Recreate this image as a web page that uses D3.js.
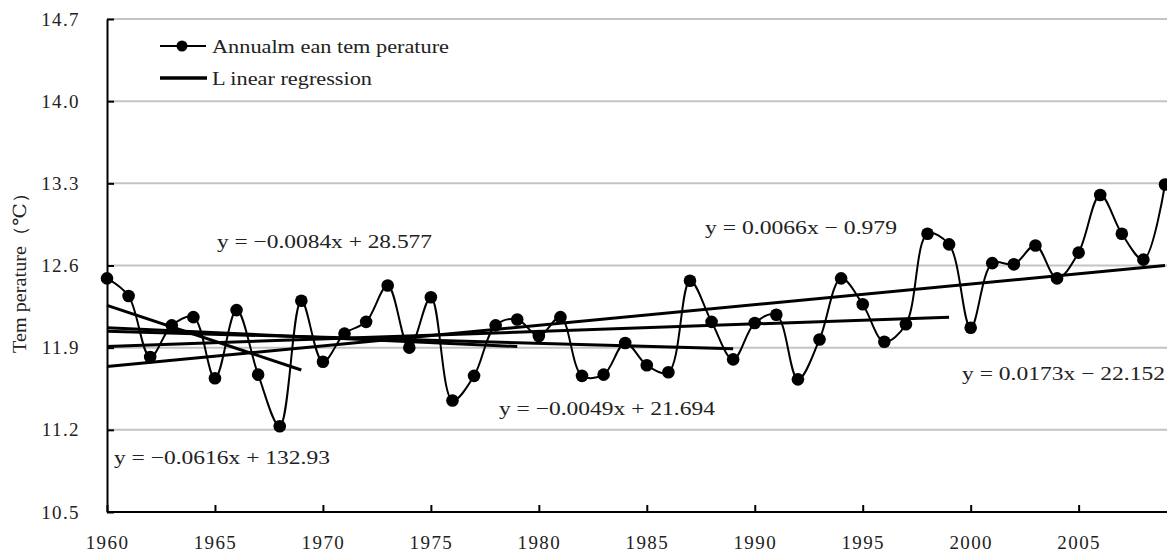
<!DOCTYPE html>
<html>
<head>
<meta charset="utf-8">
<script src="https://cdn.jsdelivr.net/npm/d3@7"></script>
<style>
  body { margin: 0; background: #fff; }
  text { font-family: "Liberation Serif", "DejaVu Serif", serif; fill: #222; }
</style>
</head>
<body>
<div id="chart"></div>
<script>
// annual mean temperature, 1960-2009
const years = d3.range(1960, 2010);
const temps = [
  12.49, 12.34, 11.82, 12.09, 12.16, 11.64, 12.22, 11.67, 11.23, 12.30,
  11.78, 12.02, 12.12, 12.43, 11.90, 12.33, 11.45, 11.66, 12.09, 12.14,
  12.00, 12.16, 11.66, 11.67, 11.94, 11.75, 11.69, 12.47, 12.12, 11.80,
  12.11, 12.18, 11.63, 11.97, 12.49, 12.27, 11.95, 12.10, 12.87, 12.78,
  12.07, 12.62, 12.61, 12.77, 12.49, 12.71, 13.20, 12.87, 12.65, 13.29
];

// regression segments: start year, end year, value at start, value at end
const regStart = [1960, 1960, 1960, 1960, 1960];
const regEnd = [1969, 1979, 1989, 1999, 2009];
const regY0 = [12.26, 12.07, 12.04, 11.91, 11.74];
const regY1 = [11.71, 11.91, 11.89, 12.16, 12.60];
const regLabels = [
  "y = \u22120.0616x + 132.93",
  "y = \u22120.0084x + 28.577",
  "y = \u22120.0049x + 21.694",
  "y = 0.0066x \u2212 0.979",
  "y = 0.0173x \u2212 22.152"
];

const yTicks = [10.5, 11.2, 11.9, 12.6, 13.3, 14.0, 14.7];
const xTicks = [1960, 1965, 1970, 1975, 1980, 1985, 1990, 1995, 2000, 2005];
const legendLabels = ["Annualm ean tem perature", "L inear regression"];
const yTitle = "Tem perature\uff08\u2103\uff09";

const width = 1167, height = 554;
const svg = d3.select("#chart").append("svg")
  .attr("width", width).attr("height", height);

const x = d3.scaleLinear().domain([1960, 2009]).range([107, 1165]);
const y = d3.scaleLinear().domain([10.5, 14.7]).range([512, 19]);

// gridlines
svg.append("g").selectAll("line")
  .data(yTicks.filter(d => d > 10.5))
  .enter().append("line")
  .attr("x1", x(1960)).attr("x2", width)
  .attr("y1", d => y(d)).attr("y2", d => y(d))
  .attr("stroke", "#c4c4c4").attr("stroke-width", 2);

// axes
const yAxis = svg.append("g")
  .attr("transform", `translate(${x(1960)},0)`)
  .call(d3.axisLeft(y).tickValues(yTicks).tickFormat(d3.format(".1f"))
    .tickSize(-7).tickSizeOuter(0).tickPadding(27));
const xAxis = svg.append("g")
  .attr("transform", `translate(0,${y(10.5)})`)
  .call(d3.axisBottom(x).tickValues(xTicks).tickFormat(d3.format("d"))
    .tickSize(-7).tickSizeOuter(0).tickPadding(24));
[yAxis, xAxis].forEach(a => {
  a.select(".domain").attr("stroke", "#000").attr("stroke-width", 2);
  a.selectAll(".tick line").attr("stroke", "#000").attr("stroke-width", 2);
  a.selectAll(".tick text")
    .style("font-size", "19px").style("letter-spacing", "1.4px")
    .attr("fill", "#222");
});
xAxis.select(".domain").attr("d", `M${x(1960)},0H${width}`);

// y title
svg.append("text")
  .attr("transform", "translate(26,268) rotate(-90)")
  .attr("text-anchor", "middle")
  .attr("textLength", 170).attr("lengthAdjust", "spacingAndGlyphs")
  .style("font-size", "18px")
  .text(yTitle);

// regression lines
svg.append("g").selectAll("line")
  .data(regStart.map((s, i) => ({ s, e: regEnd[i], a: regY0[i], b: regY1[i] })))
  .enter().append("line")
  .attr("x1", d => x(d.s)).attr("y1", d => y(d.a))
  .attr("x2", d => x(d.e)).attr("y2", d => y(d.b))
  .attr("stroke", "#000").attr("stroke-width", 3);

// data line
const pts = years.map((yr, i) => [yr, temps[i]]);
svg.append("path")
  .datum(pts)
  .attr("fill", "none").attr("stroke", "#000").attr("stroke-width", 2)
  .attr("d", d3.line().x(d => x(d[0])).y(d => y(d[1])).curve(d3.curveCatmullRom));

svg.append("g").selectAll("circle")
  .data(pts)
  .enter().append("circle")
  .attr("cx", d => x(d[0])).attr("cy", d => y(d[1]))
  .attr("r", 6.3).attr("fill", "#000");

// equation labels
const labelPos = [[114, 457, 216], [217, 241, 215], [499, 408, 216], [705, 227, 192], [962, 373, 203]];
svg.append("g").selectAll("text")
  .data(regLabels)
  .enter().append("text")
  .attr("x", (d, i) => labelPos[i][0])
  .attr("y", (d, i) => labelPos[i][1])
  .attr("dy", "0.35em")
  .attr("textLength", (d, i) => labelPos[i][2])
  .attr("lengthAdjust", "spacingAndGlyphs")
  .style("font-size", "19px")
  .text(d => d);

// legend
const lg = svg.append("g");
lg.append("line").attr("x1", 160).attr("x2", 206).attr("y1", 46).attr("y2", 46)
  .attr("stroke", "#000").attr("stroke-width", 2);
lg.append("circle").attr("cx", 182).attr("cy", 46).attr("r", 5.5).attr("fill", "#000");
lg.append("line").attr("x1", 160).attr("x2", 207).attr("y1", 78).attr("y2", 78)
  .attr("stroke", "#000").attr("stroke-width", 3.5);
lg.append("text").attr("x", 212).attr("y", 46).attr("dy", "0.35em")
  .attr("textLength", 237).attr("lengthAdjust", "spacingAndGlyphs")
  .style("font-size", "19px").text(legendLabels[0]);
lg.append("text").attr("x", 212).attr("y", 78).attr("dy", "0.35em")
  .attr("textLength", 160).attr("lengthAdjust", "spacingAndGlyphs")
  .style("font-size", "19px").text(legendLabels[1]);
</script>
</body>
</html>
